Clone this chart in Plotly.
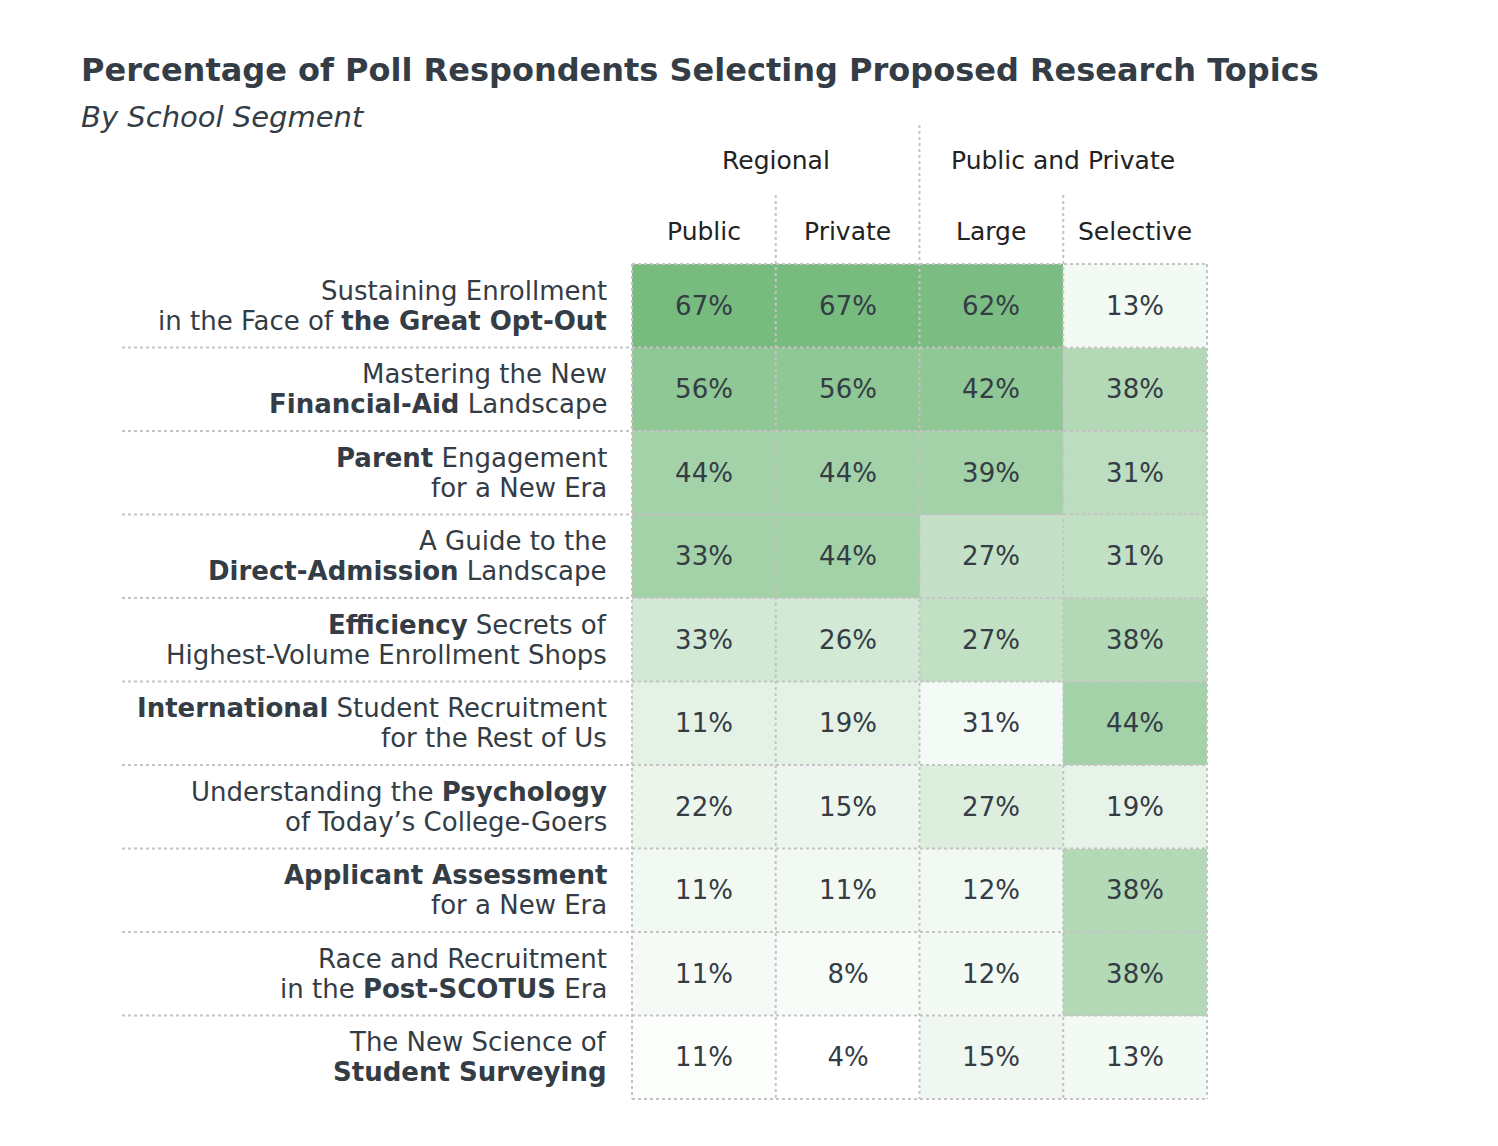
import plotly.graph_objects as go

W, H = 1498, 1146

topics = [
    "Sustaining Enrollment<br>in the Face of <b>the Great Opt-Out</b>",
    "Mastering the New<br><b>Financial-Aid</b> Landscape",
    "<b>Parent</b> Engagement<br>for a New Era",
    "A Guide to the<br><b>Direct-Admission</b> Landscape",
    "<b>Efficiency</b> Secrets of<br>Highest-Volume Enrollment Shops",
    "<b>International</b> Student Recruitment<br>for the Rest of Us",
    "Understanding the <b>Psychology</b><br>of Today’s College-Goers",
    "<b>Applicant Assessment</b><br>for a New Era",
    "Race and Recruitment<br>in the <b>Post-SCOTUS</b> Era",
    "The New Science of<br><b>Student Surveying</b>",
]
segments = ["Public", "Private", "Large", "Selective"]
groups = ["Regional", "Public and Private"]

public = [67, 56, 44, 33, 33, 11, 22, 11, 11, 11]
private = [67, 56, 44, 44, 26, 19, 15, 11, 8, 4]
large = [62, 42, 39, 27, 27, 31, 27, 12, 12, 15]
selective = [13, 38, 31, 31, 38, 44, 19, 38, 38, 13]

# shading intensity of each cell (0 = white, 1 = darkest green)
shade_public = [1.0, 0.83, 0.68, 0.68, 0.33, 0.20, 0.15, 0.10, 0.07, 0.02]
shade_private = [1.0, 0.83, 0.68, 0.68, 0.33, 0.20, 0.13, 0.10, 0.05, 0.0]
shade_large = [0.98, 0.83, 0.68, 0.44, 0.46, 0.08, 0.25, 0.10, 0.09, 0.12]
shade_selective = [0.09, 0.56, 0.50, 0.46, 0.56, 0.68, 0.18, 0.56, 0.56, 0.09]

values = [list(r) for r in zip(public, private, large, selective)]
shades = [list(r) for r in zip(shade_public, shade_private, shade_large, shade_selective)]
text = [[f"{v}%" for v in row] for row in values]

FONT = "DejaVu Sans"
INK = "#343c45"
HEAD = "#222222"
GRID = "#c4c4c4"
OFF = 8  # page body margin

# grid box in pixels (page coordinates)
x0, x1 = 632, 1207
y0, y1 = 264, 1099
ncol, nrow = len(segments), len(topics)

def px(p):
    return (p - OFF) / W

def py(p):
    return 1 - (p - OFF) / H

def col_edge(i):
    return x0 + (x1 - x0) * i / ncol

def row_edge(j):
    return y0 + (y1 - y0) * j / nrow

fig = go.Figure(go.Heatmap(
    z=shades, x=list(range(ncol)), y=list(range(nrow)),
    text=text, texttemplate="%{text}",
    textfont=dict(family=FONT, size=26, color=INK),
    colorscale=[[0, "#ffffff"], [1, "#78bb7f"]], zmin=0, zmax=1,
    showscale=False, hoverinfo="skip", xgap=0, ygap=0,
))

shapes = []
dot = dict(color=GRID, width=2, dash="dot")
# vertical grid lines
for i in range(ncol + 1):
    top = y0
    if i == 2:
        top = 125
    elif i in (1, 3):
        top = 195
    shapes.append(dict(type="line", xref="paper", yref="paper",
                       x0=px(col_edge(i)), x1=px(col_edge(i)),
                       y0=py(top), y1=py(y1), line=dot))
# horizontal grid lines
for j in range(nrow + 1):
    left = 122 if 0 < j < nrow else x0
    shapes.append(dict(type="line", xref="paper", yref="paper",
                       x0=px(left), x1=px(x1),
                       y0=py(row_edge(j)), y1=py(row_edge(j)), line=dot))

annotations = []
for j, t in enumerate(topics):
    mid = (row_edge(j) + row_edge(j + 1)) / 2
    for k, line in enumerate(t.split("<br>")):
        annotations.append(dict(text=line, xref="paper", yref="paper",
                                x=px(609), y=py(mid - 15 + 30 * k),
                                xanchor="right", yanchor="middle", align="right",
                                showarrow=False, font=dict(family=FONT, size=26, color=INK)))
for i, s in enumerate(segments):
    annotations.append(dict(text=s, xref="x", yref="paper", x=i, y=py(231),
                            xanchor="center", yanchor="middle", showarrow=False,
                            font=dict(family=FONT, size=25, color=HEAD)))
for k, g in enumerate(groups):
    annotations.append(dict(text=g, xref="paper", yref="paper",
                            x=px(col_edge(2 * k + 1)), y=py(161),
                            xanchor="center", yanchor="middle", showarrow=False,
                            font=dict(family=FONT, size=25, color=HEAD)))
annotations.append(dict(text="<b>Percentage of Poll Respondents Selecting Proposed Research Topics</b>",
                        xref="paper", yref="paper", x=px(79), y=py(70),
                        xanchor="left", yanchor="middle", showarrow=False,
                        font=dict(family=FONT, size=32, color=INK)))
annotations.append(dict(text="<i>By School Segment</i>",
                        xref="paper", yref="paper", x=px(79), y=py(117),
                        xanchor="left", yanchor="middle", showarrow=False,
                        font=dict(family=FONT, size=29, color=INK)))

fig.update_layout(
    width=W, height=H,
    margin=dict(l=0, r=0, t=0, b=0),
    paper_bgcolor="white", plot_bgcolor="white",
    xaxis=dict(domain=[px(x0), px(x1)], range=[-0.5, ncol - 0.5],
               showticklabels=False, showgrid=False, zeroline=False, fixedrange=True),
    yaxis=dict(domain=[py(y1), py(y0)], range=[nrow - 0.5, -0.5],
               showticklabels=False, showgrid=False, zeroline=False, fixedrange=True),
    shapes=shapes, annotations=annotations,
)

fig.write_html("out.html")
